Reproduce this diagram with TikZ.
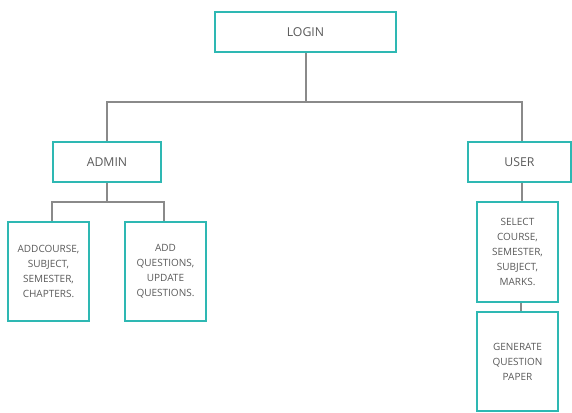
\documentclass[tikz,border=0pt]{standalone}
\usepackage{fontspec}
\setmainfont{Open Sans}
\definecolor{boxteal}{HTML}{2EB8B3}
\definecolor{txtgray}{HTML}{5A5A5A}
\definecolor{lngray}{HTML}{8A8A8A}
\begin{document}
\begin{tikzpicture}[x=0.75pt,y=-0.75pt,
  box/.style={draw=boxteal,line width=1.5pt,fill=white,text=txtgray,align=center,inner sep=0pt},
  big/.style={box,font=\fontsize{9.2}{10}\selectfont},
  small/.style={box,font=\fontsize{7.5}{11.2}\selectfont},
  conn/.style={draw=lngray,line width=1.4pt}]
\useasboundingbox (0,0) rectangle (572,412);
\node[big,minimum width=181*0.75pt,minimum height=40*0.75pt] (login) at (305.5,32) {LOGIN};
\node[big,minimum width=108*0.75pt,minimum height=40*0.75pt] (admin) at (107,162) {ADMIN};
\node[big,minimum width=103*0.75pt,minimum height=40*0.75pt] (user) at (519.5,162) {USER};
\node[small,minimum width=81*0.75pt,minimum height=99*0.75pt] (c1) at (48.5,271.5) {ADDCOURSE,\\SUBJECT,\\SEMESTER,\\CHAPTERS.};
\node[small,minimum width=81*0.75pt,minimum height=99*0.75pt] (c2) at (165.5,271.5) {ADD\\QUESTIONS,\\UPDATE\\QUESTIONS.};
\node[small,minimum width=81*0.75pt,minimum height=100*0.75pt] (sel) at (517.5,252) {SELECT\\COURSE,\\SEMESTER,\\SUBJECT,\\MARKS.};
\node[small,minimum width=81*0.75pt,minimum height=99*0.75pt] (gen) at (517.5,361.5) {GENERATE\\QUESTION\\PAPER};
\coordinate (h1) at (306,102);
\coordinate (h2) at (107,202);
\coordinate (uc) at (522,102);
\draw[conn] (h1 |- login.south) -- (h1);
\draw[conn] (admin.north) |- (h1) -- (uc) -- (uc |- user.north);
\draw[conn] (admin.south) -- (h2);
\draw[conn] (c1.north -| 52,0) |- (h2) -| (c2.north -| 164,0);
\draw[conn] (uc |- user.south) -- (uc |- sel.north);
\draw[conn] (sel.south -| 521,0) -- (gen.north -| 521,0);
\end{tikzpicture}
\end{document}
